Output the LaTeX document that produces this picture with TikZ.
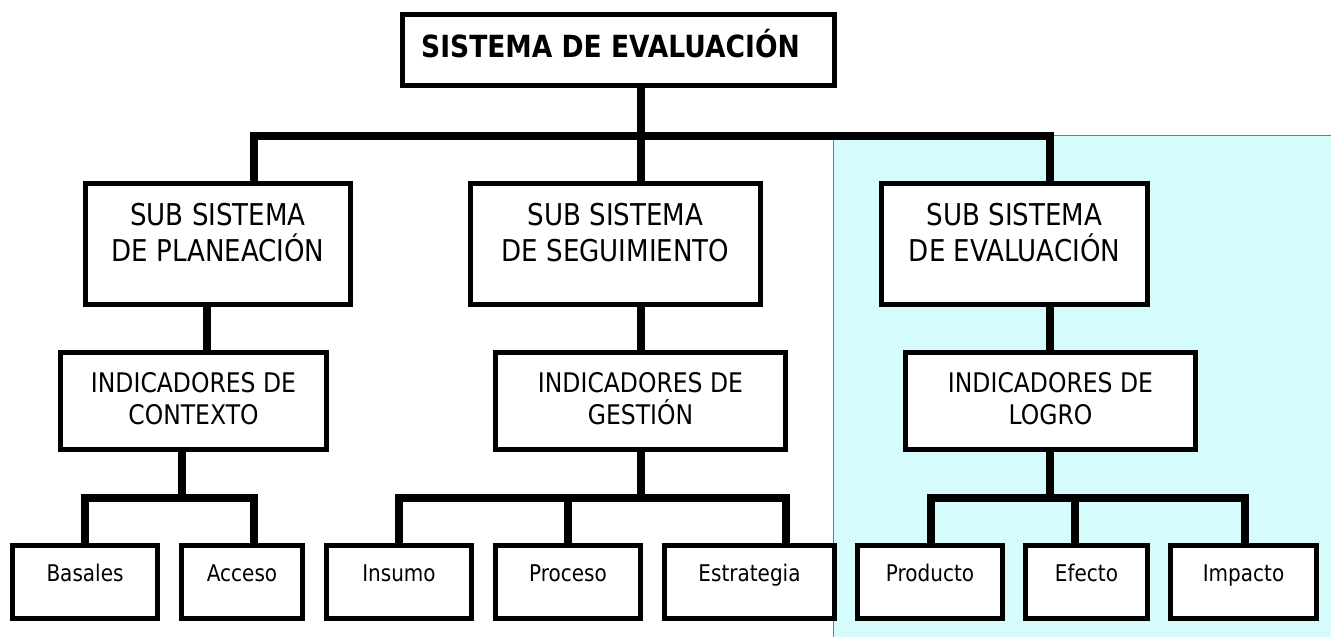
\documentclass[tikz,border=0pt]{standalone}
\usepackage{fontspec}
\setmainfont{DejaVu Sans}[FakeStretch=0.87]
\definecolor{panel}{RGB}{212,252,252}
\definecolor{paneledge}{RGB}{120,120,120}
\begin{document}
\begin{tikzpicture}[x=1pt,y=-1pt,
  box/.style={draw, line width=5pt, fill=white, inner sep=0pt, rectangle},
  conn/.style={line width=8pt, line join=miter},
  titletxt/.style={font=\bfseries\fontsize{30.5}{36}\selectfont, inner sep=0pt, anchor=base},
  subtxt/.style={font=\fontsize{30}{36}\selectfont, align=center, inner sep=0pt, anchor=base},
  indtxt/.style={font=\fontsize{27}{32}\selectfont, align=center, inner sep=0pt, anchor=base},
  leaftxt/.style={font=\fontsize{23}{28}\selectfont, inner sep=0pt, anchor=base}]
\useasboundingbox (0,0) rectangle (1331,637);
% shaded panel
\fill[panel] (833,135) rectangle (1331,637);
\draw[paneledge, line width=1pt] (833,637) |- (1331,135);
% boxes
\node[box, minimum width=432pt, minimum height=71pt] (title) at (618.5,50) {};
\node[box, minimum width=265pt, minimum height=121pt] (s1) at (218,244) {};
\node[box, minimum width=290pt, minimum height=121pt] (s2) at (615.5,244) {};
\node[box, minimum width=266pt, minimum height=121pt] (s3) at (1014.5,244) {};
\node[box, minimum width=266pt, minimum height=97pt] (i1) at (193.5,401) {};
\node[box, minimum width=290pt, minimum height=97pt] (i2) at (640.5,401) {};
\node[box, minimum width=290pt, minimum height=97pt] (i3) at (1050.5,401) {};
\node[box, minimum width=145pt, minimum height=73pt] (basales) at (85,582) {};
\node[box, minimum width=121pt, minimum height=73pt] (acceso) at (242,582) {};
\node[box, minimum width=145pt, minimum height=73pt] (insumo) at (399,582) {};
\node[box, minimum width=145pt, minimum height=73pt] (proceso) at (568,582) {};
\node[box, minimum width=170pt, minimum height=73pt] (estrategia) at (749.5,582) {};
\node[box, minimum width=145pt, minimum height=73pt] (producto) at (930,582) {};
\node[box, minimum width=122pt, minimum height=73pt] (efecto) at (1086.5,582) {};
\node[box, minimum width=146pt, minimum height=73pt] (impacto) at (1243.5,582) {};
% texts (base anchor = baseline of the last line)
\node[titletxt] (tt) at (610.5,57) {SISTEMA DE EVALUACIÓN};
\node[subtxt] (ts1) at (218,261.5) {SUB SISTEMA\\DE PLANEACIÓN};
\node[subtxt] (ts2) at (615.5,261.5) {SUB SISTEMA\\DE SEGUIMIENTO};
\node[subtxt] (ts3) at (1014.5,261.5) {SUB SISTEMA\\DE EVALUACIÓN};
\node[indtxt] (ti1) at (193.5,424) {INDICADORES DE\\CONTEXTO};
\node[indtxt] (ti2) at (640.5,424) {INDICADORES DE\\GESTIÓN};
\node[indtxt] (ti3) at (1050.5,424) {INDICADORES DE\\LOGRO};
\node[leaftxt] (tl1) at (85,581) {Basales};
\node[leaftxt] (tl2) at (242,581) {Acceso};
\node[leaftxt] (tl3) at (399,581) {Insumo};
\node[leaftxt] (tl4) at (568,581) {Proceso};
\node[leaftxt] (tl5) at (749.5,581) {Estrategia};
\node[leaftxt] (tl6) at (930,581) {Producto};
\node[leaftxt] (tl7) at (1086.5,581) {Efecto};
\node[leaftxt] (tl8) at (1243.5,581) {Impacto};
% junctions
\coordinate (j0) at (641,136);
\coordinate (j1) at (182,498);
\coordinate (j2) at (641,498);
\coordinate (j3) at (1050,498);
% connectors
\draw[conn] (title.south -| j0) -- (j0);
\draw[conn] ([xshift=36]s1.north) |- (j0) -| ([xshift=35.5]s3.north);
\draw[conn] (j0) -- ([xshift=25.5]s2.north);
\draw[conn] ([xshift=-11]s1.south) -- ([xshift=13.5]i1.north);
\draw[conn] ([xshift=25.5]s2.south) -- ([xshift=0.5]i2.north);
\draw[conn] ([xshift=35.5]s3.south) -- ([xshift=-0.5]i3.north);
\draw[conn] ([xshift=-11.5]i1.south) -- (j1);
\draw[conn] (basales.north) |- (j1) -| ([xshift=12]acceso.north);
\draw[conn] ([xshift=0.5]i2.south) -- (j2);
\draw[conn] (insumo.north) |- (j2) -| ([xshift=36.5]estrategia.north);
\draw[conn] (j2 -| proceso.north) -- (proceso.north);
\draw[conn] ([xshift=-0.5]i3.south) -- (j3);
\draw[conn] ([xshift=1]producto.north) |- (j3) -| ([xshift=1.5]impacto.north);
\draw[conn] ([xshift=-11.5]efecto.north |- j3) -- ([xshift=-11.5]efecto.north);
\end{tikzpicture}
\end{document}
